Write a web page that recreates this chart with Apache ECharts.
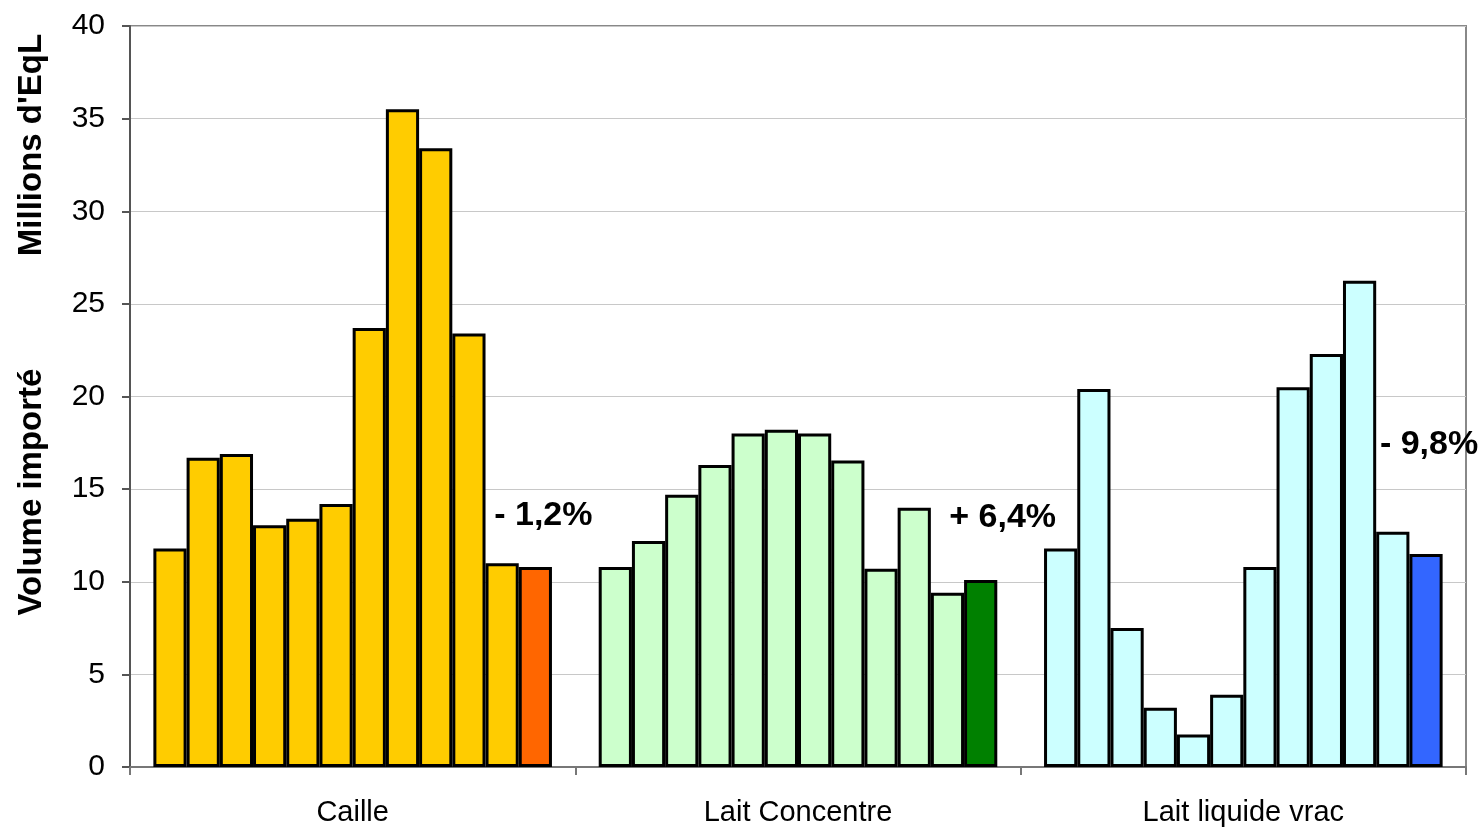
<!DOCTYPE html>
<html>
<head>
<meta charset="utf-8">
<script src="https://cdn.jsdelivr.net/npm/echarts@6/dist/echarts.min.js"></script>
<style>html,body{margin:0;padding:0;background:#fff;}#c{width:1479px;height:829px;}</style>
</head>
<body>
<div id="c"></div>
<script>
var categories = ['Caille', 'Lait Concentre', 'Lait liquide vrac'];
var cailleValues = [11.8, 16.7, 16.9, 13.05, 13.4, 14.2, 23.7, 35.5, 33.4, 23.4, 11.0, 10.8];
var laitConcentreValues = [10.8, 12.2, 14.7, 16.3, 18.0, 18.2, 18.0, 16.55, 10.7, 14.0, 9.4, 10.1];
var laitLiquideValues = [11.8, 20.4, 7.5, 3.2, 1.75, 3.9, 10.8, 20.5, 22.3, 26.25, 12.7, 11.5];
var changeLabels = ['- 1,2%', '+ 6,4%', '- 9,8%'];
var yTicks = [0, 5, 10, 15, 20, 25, 30, 35, 40];

var baseColors = ['#FFCC00', '#CCFFCC', '#CCFFFF'];
var lastColors = ['#FF6600', '#008000', '#3366FF'];
var labelOffsets = [[8, -29], [22, -40], [3, -87]];

var groups = [cailleValues, laitConcentreValues, laitLiquideValues];
var nBars = cailleValues.length;
var series = [];
for (var s = 0; s < nBars; s++) {
  var data = [];
  for (var c = 0; c < categories.length; c++) {
    var isLast = (s === nBars - 1);
    var item = {
      value: groups[c][s],
      itemStyle: { color: isLast ? lastColors[c] : baseColors[c], borderColor: '#000', borderWidth: 3 }
    };
    if (isLast) {
      item.label = {
        show: true, position: 'top', formatter: changeLabels[c],
        offset: labelOffsets[c], fontSize: 34, fontWeight: 'bold',
        fontFamily: 'Liberation Sans, Arial, sans-serif', color: '#000'
      };
    }
    data.push(item);
  }
  series.push({
    type: 'bar', data: data, barGap: '0%', barCategoryGap: '10.5%',
    animation: false, silent: true
  });
}

var chart = echarts.init(document.getElementById('c'), null, { renderer: 'canvas' });
chart.setOption({
  backgroundColor: '#fff',
  animation: false,
  grid: { left: 130, right: 13, top: 26, bottom: 62, show: true, borderColor: '#888', borderWidth: 2, backgroundColor: 'transparent' },
  xAxis: {
    type: 'category', data: categories,
    axisLine: { lineStyle: { color: '#777', width: 2 } },
    axisTick: { show: true, alignWithLabel: false, length: 8, lineStyle: { color: '#777', width: 2 } },
    axisLabel: { fontSize: 29, color: '#000', margin: 31, fontFamily: 'Liberation Sans, Arial, sans-serif' },
    splitLine: { show: false }
  },
  yAxis: {
    type: 'value', min: yTicks[0], max: yTicks[yTicks.length - 1], interval: yTicks[1] - yTicks[0],
    axisLine: { show: true, lineStyle: { color: '#555', width: 2 } },
    axisTick: { show: true, length: 8, lineStyle: { color: '#555', width: 2 } },
    axisLabel: { fontSize: 30, color: '#000', margin: 25, fontFamily: 'Liberation Sans, Arial, sans-serif' },
    splitLine: { show: true, lineStyle: { color: '#c8c8c8', width: 1 } }
  },
  graphic: [
    { type: 'text', x: 32, y: 145, rotation: Math.PI / 2,
      style: { text: "Millions d'EqL", font: 'bold 33px "Liberation Sans", Arial, sans-serif', fill: '#000', align: 'center', verticalAlign: 'middle' } },
    { type: 'text', x: 32, y: 492, rotation: Math.PI / 2,
      style: { text: 'Volume importé', font: 'bold 33px "Liberation Sans", Arial, sans-serif', fill: '#000', align: 'center', verticalAlign: 'middle' } }
  ],
  series: series
});
</script>
</body>
</html>
